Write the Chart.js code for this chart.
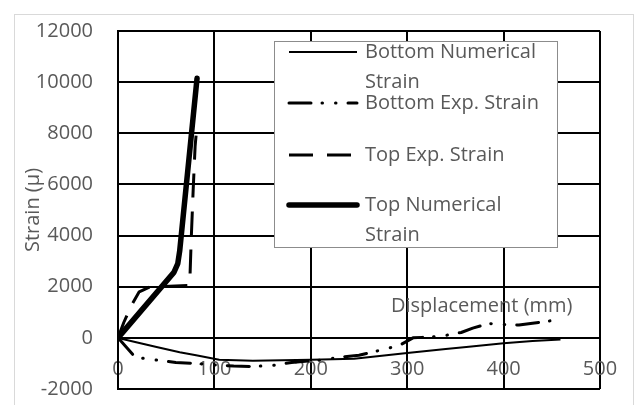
<!DOCTYPE html>
<html>
<head>
<meta charset="utf-8">
<script src="https://cdn.jsdelivr.net/npm/chart.js@4"></script>
<style>
  html, body { margin: 0; padding: 0; background: #fff; }
  #wrap { position: relative; width: 635px; height: 405px; }
</style>
</head>
<body>
<div id="wrap"><canvas id="chart" width="635" height="405"></canvas></div>
<script>
// series (displacement mm, strain µ)
const bottomNumX = [0, 20, 40, 64, 81, 105, 140, 200, 245, 300, 340, 364, 400, 430, 459];
const bottomNumY = [0, -180, -360, -560, -680, -860, -900, -860, -820, -590, -440, -350, -210, -120, -60];

const bottomExpX = [0, 16, 26, 42, 60, 80, 100, 120, 140, 160, 180, 210, 233, 250, 268, 280, 294, 306, 327, 341, 356, 368, 385, 400, 416, 430, 455];
const bottomExpY = [0, -680, -800, -880, -960, -1000, -1060, -1100, -1120, -1080, -960, -870, -745, -680, -520, -415, -250, 0, 40, 105, 210, 380, 560, 520, 500, 570, 700];

const topExpX = [0, 6, 14, 22, 33, 74, 74.5, 76, 78, 80, 81.5];
const topExpY = [0, 600, 1280, 1800, 1990, 2050, 2200, 3900, 5800, 7500, 8130];

const topNumX = [0, 58, 62, 64, 82];
const topNumY = [0, 2560, 2900, 3400, 10150];

const xTicks = [0, 100, 200, 300, 400, 500];
const yTicks = [-2000, 0, 2000, 4000, 6000, 8000, 10000, 12000];

const seriesNames = ["Bottom Numerical Strain", "Bottom Exp. Strain", "Top Exp. Strain", "Top Numerical Strain"];

const textColor = "#595959";
const fontFamily = "'Open Sans', sans-serif";

function toPoints(xs, ys) {
  return xs.map((x, i) => ({ x: x, y: ys[i] }));
}

// line styles for each series, used for plot and legend
const styles = [
  { width: 2, dash: [], cap: "butt" },
  { width: 3, dash: [22, 11, 0.5, 13, 0.5, 12], cap: "round" },
  { width: 3, dash: [24, 14], cap: "butt" },
  { width: 5.5, dash: [], cap: "round" },
];

const allData = [
  toPoints(bottomNumX, bottomNumY),
  toPoints(bottomExpX, bottomExpY),
  toPoints(topExpX, topExpY),
  toPoints(topNumX, topNumY),
];

const datasets = allData.map((d, i) => ({
  label: seriesNames[i],
  data: d,
  showLine: true,
  borderColor: "#000",
  borderWidth: styles[i].width,
  borderDash: styles[i].dash,
  borderCapStyle: styles[i].cap,
  borderJoinStyle: "round",
  pointRadius: 0,
  tension: 0,
  fill: false,
}));

// frame, legend box and the floating axis title
const extras = {
  id: "extras",
  beforeDraw(chart) {
    const ctx = chart.ctx;
    ctx.save();
    ctx.fillStyle = "#fff";
    ctx.fillRect(0, 0, chart.width, chart.height);
    ctx.strokeStyle = "#d9d9d9";
    ctx.lineWidth = 1;
    ctx.strokeRect(14.5, 14.5, 619, 400);
    ctx.restore();
  },
  afterDraw(chart) {
    const ctx = chart.ctx;
    ctx.save();
    ctx.font = "20px " + fontFamily;
    ctx.fillStyle = textColor;
    ctx.textBaseline = "middle";
    ctx.textAlign = "left";
    ctx.fillText("Displacement (mm)", 391, 306);

    // legend
    ctx.fillStyle = "#fff";
    ctx.fillRect(274, 41, 283, 206);
    ctx.strokeStyle = "#8c8c8c";
    ctx.lineWidth = 1;
    ctx.strokeRect(274.5, 41.5, 283, 206);

    const rows = [52, 103, 155, 205];
    const labels = [["Bottom Numerical", "Strain"], ["Bottom Exp. Strain"], ["Top Exp. Strain"], ["Top Numerical", "Strain"]];
    rows.forEach((y, i) => {
      const s = styles[i];
      ctx.beginPath();
      ctx.strokeStyle = "#000";
      ctx.lineWidth = s.width;
      ctx.lineCap = s.cap;
      ctx.setLineDash(s.dash);
      ctx.moveTo(289, y);
      ctx.lineTo(357, y);
      ctx.stroke();
      ctx.setLineDash([]);
      ctx.fillStyle = textColor;
      labels[i].forEach((t, j) => ctx.fillText(t, 365, y + j * 30));
    });
    ctx.restore();
  },
};

new Chart(document.getElementById("chart"), {
  type: "scatter",
  data: { datasets: datasets },
  options: {
    responsive: false,
    animation: false,
    layout: { padding: { left: 16, top: 31, right: 35, bottom: 16 } },
    plugins: { legend: { display: false }, tooltip: { enabled: false } },
    scales: {
      x: {
        type: "linear",
        position: { y: 0 }, // axis crosses at zero like the source
        min: 0,
        max: 500,
        afterBuildTicks: (scale) => { scale.ticks = xTicks.map((v) => ({ value: v })); },
        ticks: { color: textColor, font: { family: fontFamily, size: 20 }, padding: 0, maxRotation: 0 },
        // invisible tick marks used as spacing for the labels
        grid: { color: "#000", lineWidth: 2, drawTicks: true, tickLength: 19, tickColor: "rgba(0,0,0,0)" },
        border: { color: "#000", width: 2 },
      },
      y: {
        type: "linear",
        min: -2000,
        max: 12000,
        afterBuildTicks: (scale) => { scale.ticks = yTicks.map((v) => ({ value: v })); },
        afterFit: (scale) => { scale.width = 102; },
        ticks: {
          color: textColor,
          font: { family: fontFamily, size: 20 },
          padding: 0,
          callback: (v) => String(v),
        },
        grid: { color: "#000", lineWidth: 2, drawTicks: true, tickLength: 25, tickColor: "rgba(0,0,0,0)" },
        border: { color: "#000", width: 2 },
        title: {
          display: true,
          text: "Strain (µ)",
          color: textColor,
          font: { family: fontFamily, size: 20 },
          padding: { top: 5, bottom: 0 },
        },
      },
    },
  },
  plugins: [extras],
});
</script>
</body>
</html>
